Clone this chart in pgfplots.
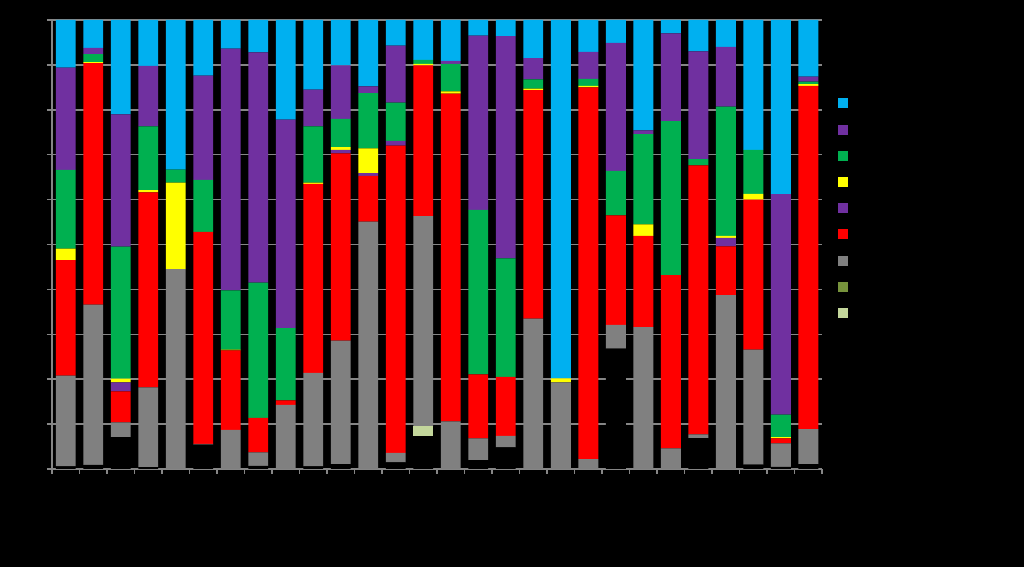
\documentclass[border=0pt]{standalone}
\usepackage{pgfplots}
\pgfplotsset{compat=1.18}
\usepackage{pgfplotstable}
\definecolor{cLB}{RGB}{0,176,240}
\definecolor{cPU}{RGB}{112,48,160}
\definecolor{cGN}{RGB}{0,176,80}
\definecolor{cYE}{RGB}{255,255,0}
\definecolor{cRD}{RGB}{255,0,0}
\definecolor{cGR}{RGB}{128,128,128}
\definecolor{cOL}{RGB}{119,147,60}
\definecolor{cLG}{RGB}{195,214,155}
\definecolor{cGrid}{RGB}{134,134,134}
\pgfplotstableread{
x  blk  lg   ol  gr   rd   pb   ye   gn   pu   lb
0  0.6  0    0   20.2 25.7 0    2.6  17.5 22.8 10.6
1  0.9  0    0   35.7 53.8 0    0.2  1.8  1.4  6.2
2  7.1  0    0   3.3  6.9  2.0  0.8  29.4 29.5 21.0
3  0.4  0    0   17.8 43.4 0    0.5  14.2 13.5 10.2
4  0    0    0   44.5 0    0    19.3 2.9  0    33.3
5  5.4  0    0   0.2  47.2 0    0    11.6 23.2 12.4
6  0    0    0   8.7  17.7 0    0.2  13.2 53.8 6.4
7  0.7  0    0   3.0  7.7  0    0    30.1 51.3 7.2
8  0    0    0   14.3 1.0  0    0    16.1 46.4 22.2
9  0.6  0    0   20.8 42.1 0    0.3  12.5 8.2  15.5
10 1.1  0    0   27.5 41.7 0.8  0.6  6.3  11.9 10.1
11 0    0    0   55.1 10.2 0.6  5.5  12.3 1.5  14.8
12 1.5  0    0   2.1  68.4 1.1  0    8.5  12.7 5.7
13 7.3  2.2  0   46.8 33.6 0    0.3  0.9  0    8.9
14 0    0    0   10.6 73.0 0    0.5  6.1  0.7  9.1
15 2.0  0    0   4.8  14.3 0    0    36.6 38.8 3.5
16 4.8  0    0   2.6  13.1 0    0    26.4 49.5 3.6
17 0    0    0   33.5 50.9 0    0.3  2.1  4.7  8.5
18 0    0    0   19.3 0    0    0.9  0    0    79.8
19 0    0    0   2.2  82.8 0    0.3  1.6  6.0  7.1
20 26.8 0    0   5.3  24.4 0    0    9.9  28.5 5.1
21 0    0    0   31.6 20.3 0    2.6  20.1 0.8  24.6
22 0    0    0   4.6  38.6 0    0    34.3 19.5 3.0
23 6.9  0    0   0.8  59.9 0    0    1.4  24.0 7.0
24 0    0    0   38.7 10.9 1.9  0.4  28.8 13.3 6.0
25 1.0  0    0   25.6 33.4 0    1.3  9.8  0    28.9
26 0.5  0    0   5.2  1.1  0    0.3  5.0  49.1 38.8
27 1.1  0    0   7.8  76.4 0    0.4  0.6  1.1  12.6
}\data
\begin{document}
\begin{tikzpicture}[x=1pt,y=1pt]
\fill[black] (0,0) rectangle (512,283.5);
\useasboundingbox (0,0) rectangle (512,283.5);
\begin{axis}[
  at={(26pt,49pt)}, anchor=south west,
  scale only axis, width=385pt, height=224.5pt,
  ybar stacked, bar width=0.727,
  xmin=-0.5, xmax=27.5, ymin=0, ymax=100,
  ytick={0,10,...,100}, yticklabels={},
  xtick={-0.5,0.5,...,27.5}, xticklabels={},
  ymajorgrids, grid style={cGrid, line width=0.75pt},
  axis x line*=bottom, axis y line*=left,
  axis line style={cGrid, line width=0.75pt, -},
  tick style={cGrid, line width=0.75pt},
  tick align=outside, major tick length=2.5pt,
  reverse legend,
  legend image code/.code={\fill[#1,draw=none] (0pt,0pt) rectangle (5pt,5pt);},
  legend style={at={(1.0212,0.8256)}, anchor=north west, draw=none, fill=none,
    inner sep=0pt, outer sep=0pt, row sep=5.62pt,
    nodes={inner sep=0pt, text height=5pt, text depth=0pt, text=black}},
]
\addplot[fill=black, draw=none] table[x=x,y=blk]{\data}; \addlegendentry{\mbox{}}
\addplot[fill=cLG, draw=none] table[x=x,y=lg]{\data}; \addlegendentry{\mbox{}}
\addplot[fill=cOL, draw=none] table[x=x,y=ol]{\data}; \addlegendentry{\mbox{}}
\addplot[fill=cGR, draw=none] table[x=x,y=gr]{\data}; \addlegendentry{\mbox{}}
\addplot[fill=cRD, draw=none] table[x=x,y=rd]{\data}; \addlegendentry{\mbox{}}
\addplot[fill=cPU, draw=none] table[x=x,y=pb]{\data}; \addlegendentry{\mbox{}}
\addplot[fill=cYE, draw=none] table[x=x,y=ye]{\data}; \addlegendentry{\mbox{}}
\addplot[fill=cGN, draw=none] table[x=x,y=gn]{\data}; \addlegendentry{\mbox{}}
\addplot[fill=cPU, draw=none] table[x=x,y=pu]{\data}; \addlegendentry{\mbox{}}
\addplot[fill=cLB, draw=none] table[x=x,y=lb]{\data}; \addlegendentry{\mbox{}}
\end{axis}
\end{tikzpicture}
\end{document}
